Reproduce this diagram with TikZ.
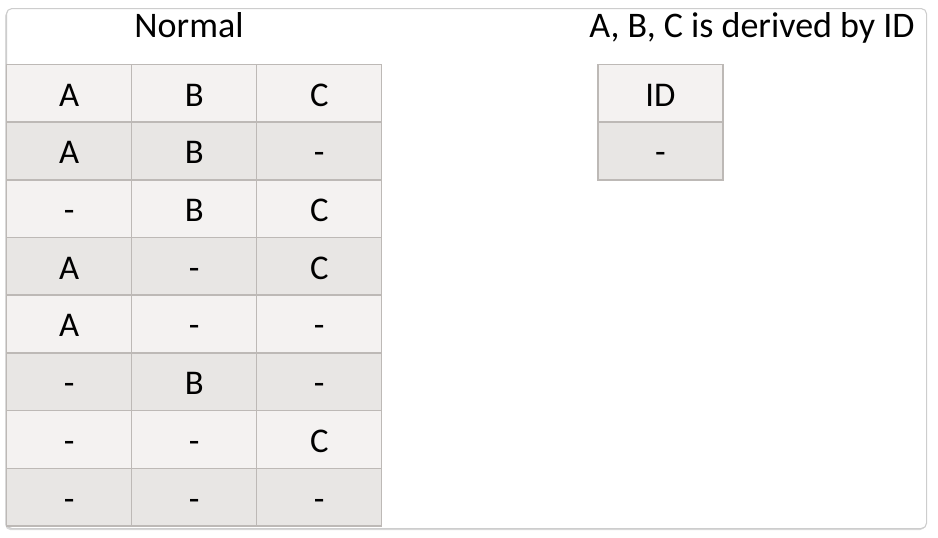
\documentclass[tikz,border=0pt]{standalone}
\usepackage{fontspec}
\setmainfont{Carlito}
\usetikzlibrary{positioning, shadows}
\definecolor{gridgray}{HTML}{BDB9B6}
\definecolor{lightfill}{HTML}{F4F2F1}
\definecolor{darkfill}{HTML}{E8E6E4}
\definecolor{framegray}{HTML}{CDCDCD}

\begin{document}
\begin{tikzpicture}[x=0.75pt, y=-0.75pt,
  frame/.style={rectangle, draw=framegray, line width=0.8pt, fill=white, rounded corners=4pt, drop shadow={opacity=0.3, shadow xshift=-1pt, shadow yshift=-1.2pt}},
  cell/.style={rectangle, draw=gridgray, line width=1.1pt, minimum width=93.75pt, minimum height=43.3pt, inner sep=0pt, outer sep=0pt, text height=19.3pt, text depth=0pt, font=\fontsize{26}{30}\selectfont},
  title/.style={font=\fontsize{27}{30}\selectfont, inner sep=0pt, anchor=base}
]
  \useasboundingbox (0,0) rectangle (938,537);

  % Window frame
  \node[frame, minimum width=690pt, minimum height=390pt, anchor=north west] (win) at (6,8) {};

  % Titles
  \node[title] (normal) at (189,37) {Normal};
  \node[title] (derived) at (752,37) {A, B, C is derived by ID};

  % Normal table
  \foreach \a/\b/\c [count=\r] in {A/B/C, A/B/-, -/B/C, A/-/C, A/-/-, -/B/-, -/-/C, -/-/-}{
    \ifodd\r \def\rowfill{lightfill}\else \def\rowfill{darkfill}\fi
    \node[cell, fill=\rowfill] (n-\r-1) at (69.25, 93.25+57.7*\r-57.7) {\a};
    \node[cell, fill=\rowfill, right=0pt of n-\r-1] (n-\r-2) {\b};
    \node[cell, fill=\rowfill, right=0pt of n-\r-2] (n-\r-3) {\c};
  }

  % ID table
  \node[cell, fill=lightfill] (id-1) at (660.5,93.25) {ID};
  \node[cell, fill=darkfill, below=0pt of id-1] (id-2) {-};
\end{tikzpicture}
\end{document}
